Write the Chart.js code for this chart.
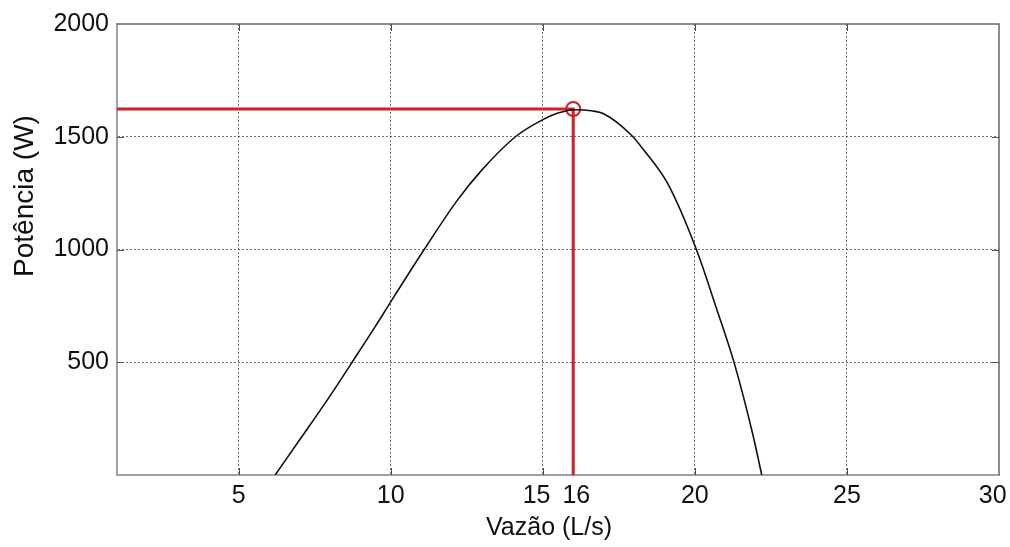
<!DOCTYPE html>
<html>
<head>
<meta charset="utf-8">
<title>Potência x Vazão</title>
<script src="https://cdn.jsdelivr.net/npm/chart.js@4.4.1/dist/chart.umd.min.js"></script>
<style>
    html, body { margin: 0; padding: 0; background: #fff; }
    #powerChart { display: block; }
</style>
</head>
<body>
<canvas id="powerChart" width="1010" height="547"></canvas>
<script>
// Curva potência x vazão
const flowValues  = [6.2, 7, 8, 8.7, 9.5, 10, 11.1, 12.2, 13, 14.1, 15, 15.5, 16.05, 16.6, 17, 17.9, 18.3, 19.1, 20.05, 20.7, 21.3, 21.9, 22.2];
const powerValues = [0, 155, 350, 494, 660, 768, 1000, 1220, 1353, 1500, 1576, 1605, 1620, 1615, 1602, 1509, 1445, 1294, 1000, 743, 494, 183, 0];

// Ponto de máxima potência
const optimumFlow = 16;
const optimumPower = 1623;

// Eixos
const xMin = 1, xMax = 30;
const yMin = 0, yMax = 2000;
const xTickValues = [5, 10, 15, 16, 20, 25, 30];
const yTickValues = [500, 1000, 1500, 2000];
const xTitle = 'Vazão (L/s)';
const yTitle = 'Potência (W)';

const FONT = '"Liberation Sans", Arial, sans-serif';
const RED = 'rgb(208, 32, 40)';
const GRID = 'rgba(0,0,0,0.55)';
const NONE = 'rgba(0,0,0,0)';

const curvePoints = flowValues.map((x, i) => ({ x: x, y: powerValues[i] }));
const guidePoints = [
    { x: xMin, y: optimumPower },
    { x: optimumFlow, y: optimumPower },
    { x: optimumFlow, y: yMin }
];

// Rótulos do eixo x: afasta 15 de 16 e recua o 30 para dentro da borda
function xTickLabel(v) {
    if (v === 15) return '15\u2002';
    if (v === optimumFlow) return '\u2005' + v;
    if (v === xMax) return v + '\u2002';
    return String(v);
}

// Moldura, marcas internas e títulos dos eixos
const framePlugin = {
    id: 'frame',
    afterDraw(chart) {
        const ctx = chart.ctx;
        const area = chart.chartArea;
        const xs = chart.scales.x;
        const ys = chart.scales.y;
        ctx.save();

        ctx.strokeStyle = '#666';
        ctx.lineWidth = 1.5;
        ctx.beginPath();
        ctx.moveTo(area.left, area.top);
        ctx.lineTo(area.right, area.top);
        ctx.lineTo(area.right, area.bottom);
        ctx.stroke();

        ctx.strokeStyle = '#555';
        ctx.lineWidth = 1;
        const tick = 7;
        ctx.beginPath();
        xTickValues.forEach(v => {
            if (v === optimumFlow || v === xMax) return;
            const px = Math.round(xs.getPixelForValue(v)) + 0.5;
            ctx.moveTo(px, area.bottom);
            ctx.lineTo(px, area.bottom - tick);
            ctx.moveTo(px, area.top);
            ctx.lineTo(px, area.top + tick);
        });
        yTickValues.forEach(v => {
            if (v === yMax) return;
            const py = Math.round(ys.getPixelForValue(v)) + 0.5;
            ctx.moveTo(area.left, py);
            ctx.lineTo(area.left + tick, py);
            ctx.moveTo(area.right, py);
            ctx.lineTo(area.right - tick, py);
        });
        ctx.stroke();

        ctx.fillStyle = '#111';
        ctx.textAlign = 'center';
        ctx.textBaseline = 'middle';
        ctx.font = '25px ' + FONT;
        ctx.fillText(xTitle, 549, 528);

        ctx.translate(25, 196);
        ctx.rotate(-Math.PI / 2);
        ctx.font = '28px ' + FONT;
        ctx.fillText(yTitle, 0, 0);
        ctx.restore();
    }
};

const ctx = document.getElementById('powerChart').getContext('2d');
const powerChart = new Chart(ctx, {
    type: 'scatter',
    data: {
        datasets: [
            {
                label: 'Potência',
                data: curvePoints,
                showLine: true,
                borderColor: '#111',
                borderWidth: 1.6,
                pointRadius: 0,
                cubicInterpolationMode: 'monotone',
                order: 0
            },
            {
                label: 'Guia',
                data: guidePoints,
                showLine: true,
                borderColor: RED,
                borderWidth: 3,
                pointRadius: 0,
                order: 2
            },
            {
                label: 'Máximo',
                data: [{ x: optimumFlow, y: optimumPower }],
                showLine: false,
                pointRadius: 7,
                pointBorderWidth: 2,
                pointBorderColor: RED,
                pointBackgroundColor: NONE,
                order: 1
            }
        ]
    },
    options: {
        responsive: false,
        animation: false,
        devicePixelRatio: 1,
        layout: { padding: { left: 0, right: 11, top: 24, bottom: 0 } },
        plugins: {
            legend: { display: false },
            tooltip: { enabled: false }
        },
        scales: {
            x: {
                type: 'linear',
                min: xMin,
                max: xMax,
                afterBuildTicks: scale => {
                    scale.ticks = xTickValues.map(v => ({ value: v }));
                },
                afterFit: scale => {
                    scale.height = 72;
                    scale.paddingLeft = 0;
                    scale.paddingRight = 0;
                },
                ticks: {
                    autoSkip: false,
                    maxRotation: 0,
                    padding: 6,
                    color: '#111',
                    font: { family: FONT, size: 25 },
                    callback: v => xTickLabel(v)
                },
                grid: {
                    drawTicks: false,
                    lineWidth: 1,
                    color: c => (c.tick && (c.tick.value === optimumFlow || c.tick.value === xMax)) ? NONE : GRID
                },
                border: { display: true, color: '#a0a0a0', width: 2, dash: [2, 2] },
                title: { display: false }
            },
            y: {
                type: 'linear',
                min: yMin,
                max: yMax,
                afterBuildTicks: scale => {
                    scale.ticks = yTickValues.map(v => ({ value: v }));
                },
                afterFit: scale => {
                    scale.width = 117;
                    scale.paddingTop = 0;
                    scale.paddingBottom = 0;
                },
                ticks: {
                    padding: 8,
                    color: '#111',
                    font: { family: FONT, size: 25 },
                    callback: v => String(v)
                },
                grid: {
                    drawTicks: false,
                    lineWidth: 1,
                    color: c => (c.tick && c.tick.value === yMax) ? NONE : GRID
                },
                border: { display: true, color: '#a0a0a0', width: 2, dash: [2, 2] },
                title: { display: false }
            }
        }
    },
    plugins: [framePlugin]
});
</script>
</body>
</html>
